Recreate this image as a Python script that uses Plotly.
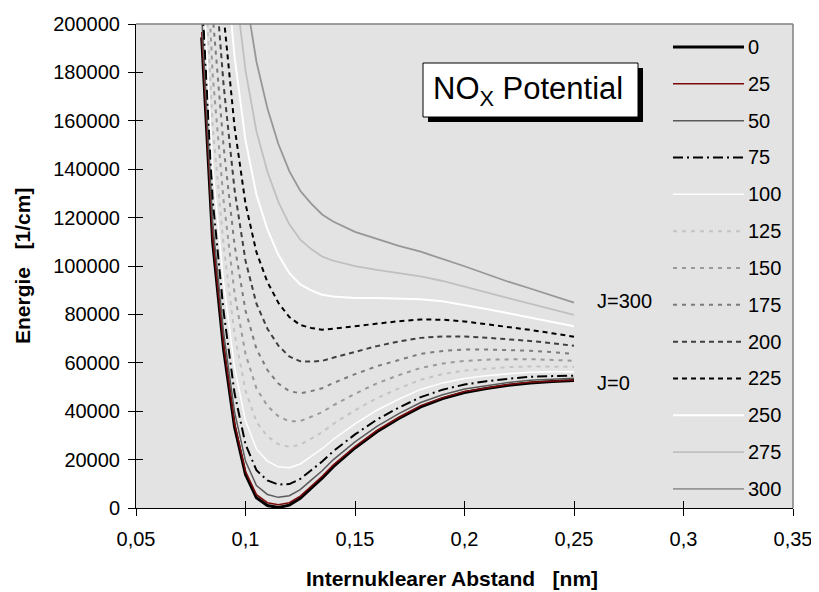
import plotly.graph_objects as go

# ---------------- data ----------------
x_nm = [0.080, 0.085, 0.090, 0.095, 0.100, 0.105, 0.110, 0.115, 0.120, 0.125,
        0.130, 0.135, 0.140, 0.150, 0.160, 0.170, 0.180, 0.190, 0.200, 0.210,
        0.220, 0.230, 0.240, 0.250]

J0 = [194500, 110000, 65600, 33500, 13800, 4200, 1000, 200, 1200, 4000, 8200, 12300,
      17000, 24800, 31500, 37000, 41800, 45200, 47700, 49400, 50700, 51700, 52300, 52700]
J25 = [196700, 112000, 67400, 35100, 15200, 5500, 2200, 1300, 2200, 4900, 9000, 13100,
       17700, 25400, 32100, 37500, 42300, 45600, 48100, 49700, 51000, 52000, 52600, 52900]
J50 = [203300, 117800, 72500, 39700, 19400, 9300, 5600, 4400, 5100, 7600, 11500, 15400,
       19900, 27300, 33700, 39000, 43600, 46800, 49200, 50700, 51900, 52800, 53300, 53600]
J75 = [214100, 127400, 81100, 47400, 26300, 15600, 11400, 9700, 9900, 12000, 15600, 19200,
       23400, 30400, 36500, 41500, 45800, 48900, 51000, 52400, 53400, 54200, 54500, 54700]
J100 = [229200, 140800, 93000, 58100, 36000, 24400, 19400, 17000, 16600, 18200, 21300, 24500,
        28300, 34800, 40400, 45000, 49000, 51700, 53500, 54700, 55500, 56100, 56300, 56300]
J125 = [248600, 158000, 108400, 71900, 48500, 35600, 29600, 26400, 25300, 26200, 28700, 31300,
        34700, 40400, 45400, 49400, 53000, 55300, 56800, 57600, 58200, 58500, 58500, 58300]
J150 = [272400, 179000, 127100, 88700, 63600, 49400, 42200, 37900, 35800, 35900, 37700, 39600,
        42400, 47200, 51500, 54900, 57900, 59700, 60800, 61300, 61400, 61500, 61200, 60800]
J175 = [300400, 203800, 149300, 108600, 81600, 65700, 57000, 51400, 48300, 47400, 48300, 49500,
        51600, 55300, 58600, 61300, 63700, 64900, 65500, 65500, 65300, 65000, 64400, 63700]
J200 = [332700, 232400, 174800, 131500, 102200, 84400, 74100, 67100, 62600, 60600, 60500, 60800,
        62100, 64500, 66900, 68800, 70300, 70900, 70900, 70400, 69800, 69000, 68100, 67000]
J225 = [369300, 264800, 203700, 157500, 125700, 105700, 93400, 84800, 78900, 75600, 74400, 73700,
        74100, 75100, 76300, 77200, 77900, 77800, 77100, 76000, 74800, 73600, 72200, 70800]
J250 = [410200, 301100, 236000, 186500, 151900, 129400, 115100, 104600, 97100, 92400, 89900, 88100,
        87400, 86800, 86800, 86600, 86300, 85400, 83900, 82200, 80500, 78800, 76900, 75100]
J275 = [455400, 341100, 271800, 218500, 180800, 155700, 139000, 126500, 117200, 110900, 107000, 103900,
        102200, 99900, 98400, 97000, 95700, 93800, 91600, 89100, 86700, 84400, 82000, 79800]
J300 = [504900, 385000, 310900, 253600, 212500, 184400, 165200, 150400, 139200, 131100, 125800, 121300,
        118400, 114100, 111100, 108300, 105900, 103000, 99900, 96700, 93500, 90700, 87700, 84900]

series_names = ["0", "25", "50", "75", "100", "125", "150", "175", "200", "225", "250", "275", "300"]
series_values = [J0, J25, J50, J75, J100, J125, J150, J175, J200, J225, J250, J275, J300]

x_tickvals = [0.05, 0.1, 0.15, 0.2, 0.25, 0.3, 0.35]
x_ticktext = ["0,05", "0,1", "0,15", "0,2", "0,25", "0,3", "0,35"]
y_tickvals = [0, 20000, 40000, 60000, 80000, 100000, 120000, 140000, 160000, 180000, 200000]
y_ticktext = ["0", "20000", "40000", "60000", "80000", "100000", "120000", "140000",
              "160000", "180000", "200000"]

# ---------------- styles ----------------
styles = [
    dict(color="#000000", width=3, dash="solid"),
    dict(color="#7a0a0a", width=1.5, dash="solid"),
    dict(color="#5a5a5a", width=1.5, dash="solid"),
    dict(color="#000000", width=2, dash="10px,4px,2px,4px"),
    dict(color="#ffffff", width=1.5, dash="solid"),
    dict(color="#c4c4c4", width=2, dash="4px,5px"),
    dict(color="#9a9a9a", width=2, dash="4px,5px"),
    dict(color="#7c7c7c", width=2, dash="4px,5px"),
    dict(color="#404040", width=2, dash="5px,4px"),
    dict(color="#000000", width=2, dash="5px,4px"),
    dict(color="#ffffff", width=2, dash="solid"),
    dict(color="#c0c0c0", width=1.8, dash="solid"),
    dict(color="#979797", width=1.8, dash="solid"),
]

FONT = "Liberation Sans, Arial, Helvetica, sans-serif"

fig = go.Figure()
for name, vals, st in zip(series_names, series_values, styles):
    fig.add_trace(go.Scatter(x=x_nm, y=vals, mode="lines", name=name,
                             line=dict(color=st["color"], width=st["width"], dash=st["dash"]),
                             showlegend=False, hoverinfo="skip"))

# empty trace for overlay axes (inside half of crossing ticks)
fig.add_trace(go.Scatter(x=[], y=[], xaxis="x2", yaxis="y2", showlegend=False))

# page has an 8px body margin; plot area in page pixels: x 136..793, y 24..508
OFF = 8
W, H = 819 - OFF, 592 - OFF
PL, PT, PR, PB = 136, 24, 793, 508
L, T = PL - OFF, PT - OFF
R = W - (PR - OFF)
B = H - (PB - OFF)
pw, ph = PR - PL, PB - PT


def px2paper_x(px):
    return (px - PL) / pw


def py2paper_y(py):
    return (PB - py) / ph


shapes = []
annotations = []

# plot frame (top & right, gray)
shapes.append(dict(type="line", xref="paper", yref="paper", x0=0, x1=1, y0=1, y1=1,
                   line=dict(color="#808080", width=1.5), layer="above"))
shapes.append(dict(type="line", xref="paper", yref="paper", x0=1, x1=1, y0=0, y1=1,
                   line=dict(color="#808080", width=1.5), layer="above"))

# title box with shadow
shapes.append(dict(type="rect", xref="paper", yref="paper",
                   x0=px2paper_x(428), x1=px2paper_x(643), y0=py2paper_y(122), y1=py2paper_y(68),
                   fillcolor="#000000", line=dict(width=0), layer="above"))
shapes.append(dict(type="rect", xref="paper", yref="paper",
                   x0=px2paper_x(423), x1=px2paper_x(638), y0=py2paper_y(117), y1=py2paper_y(63),
                   fillcolor="#ffffff", line=dict(color="#000000", width=1), layer="above"))
annotations.append(dict(text="NO<sub>X</sub> Potential", xref="paper", yref="paper",
                        x=px2paper_x(431), y=py2paper_y(91), xanchor="left", yanchor="middle",
                        showarrow=False, font=dict(family=FONT, size=31, color="#000000")))

# legend (manual, inside plot)
leg_x0, leg_x1, leg_tx = 673, 744, 746
leg_y0, leg_dy = 47, 36.83
for i, (name, st) in enumerate(zip(series_names, styles)):
    yy = py2paper_y(leg_y0 + leg_dy * i)
    shapes.append(dict(type="line", xref="paper", yref="paper",
                       x0=px2paper_x(leg_x0), x1=px2paper_x(leg_x1), y0=yy, y1=yy,
                       line=dict(color=st["color"], width=st["width"], dash=st["dash"]),
                       layer="above"))
    annotations.append(dict(text=name, xref="paper", yref="paper", x=px2paper_x(leg_tx), y=yy,
                            xanchor="left", yanchor="middle", showarrow=False,
                            font=dict(family=FONT, size=20, color="#000000")))

# J labels
annotations.append(dict(text="J=300", xref="paper", yref="paper", x=px2paper_x(595), y=py2paper_y(301),
                        xanchor="left", yanchor="middle", showarrow=False,
                        font=dict(family=FONT, size=20, color="#000000")))
annotations.append(dict(text="J=0", xref="paper", yref="paper", x=px2paper_x(595), y=py2paper_y(383),
                        xanchor="left", yanchor="middle", showarrow=False,
                        font=dict(family=FONT, size=20, color="#000000")))

# axis titles
annotations.append(dict(text="<b>Internuklearer Abstand\u00a0\u00a0\u00a0[nm]</b>", xref="paper", yref="paper",
                        x=px2paper_x(452), y=py2paper_y(578), xanchor="center", yanchor="middle",
                        showarrow=False, font=dict(family=FONT, size=21, color="#000000")))
annotations.append(dict(text="<b>Energie\u00a0\u00a0\u00a0[1/cm]</b>", xref="paper", yref="paper",
                        x=px2paper_x(22), y=py2paper_y(266), xanchor="center", yanchor="middle",
                        textangle=-90, showarrow=False, font=dict(family=FONT, size=21, color="#000000")))

axis_common = dict(showgrid=False, zeroline=False, ticks="outside", ticklen=7, tickwidth=1,
                   tickcolor="#000000", showline=True, linecolor="#000000", linewidth=1,
                   tickfont=dict(family=FONT, size=20, color="#000000"))

fig.update_layout(
    width=W, height=H,
    margin=dict(l=L, r=R, t=T, b=B, pad=0, autoexpand=False),
    paper_bgcolor="#ffffff", plot_bgcolor="#e3e3e3",
    showlegend=False,
    xaxis=dict(range=[0.05, 0.35], tickmode="array", tickvals=x_tickvals, ticktext=x_ticktext,
               ticklabelstandoff=6, **axis_common),
    yaxis=dict(range=[0, 200000], tickmode="array", tickvals=y_tickvals, ticktext=y_ticktext,
               ticklabelstandoff=4, **axis_common),
    xaxis2=dict(overlaying="x", side="bottom", anchor="y2", range=[0.05, 0.35], tickmode="array",
                tickvals=x_tickvals, ticks="inside", ticklen=7, tickwidth=1, tickcolor="#000000",
                showticklabels=False, showline=False, showgrid=False, zeroline=False),
    yaxis2=dict(overlaying="y", side="left", anchor="x2", range=[0, 200000], tickmode="array",
                tickvals=y_tickvals, ticks="inside", ticklen=7, tickwidth=1, tickcolor="#000000",
                showticklabels=False, showline=False, showgrid=False, zeroline=False),
    shapes=shapes,
    annotations=annotations,
)

fig.write_html("out.html")
